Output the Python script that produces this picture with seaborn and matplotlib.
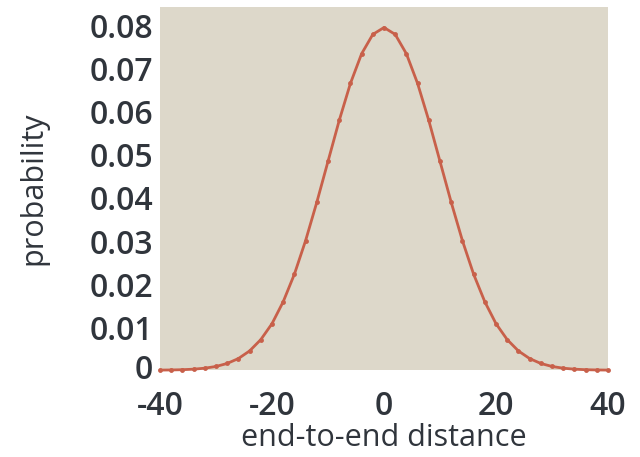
import matplotlib
matplotlib.use("Agg")
import matplotlib.pyplot as plt
import matplotlib.transforms as mtransforms
import seaborn as sns
import pandas as pd

# end-to-end distance (steps of 2) and probability
distance = [-40, -38, -36, -34, -32, -30, -28, -26, -24, -22, -20, -18, -16, -14,
            -12, -10, -8, -6, -4, -2, 0, 2, 4, 6, 8, 10, 12, 14, 16, 18, 20,
            22, 24, 26, 28, 30, 32, 34, 36, 38, 40]
probability = [0.00002, 0.00005, 0.00011, 0.00023, 0.00046, 0.00086, 0.00156,
               0.0027, 0.00447, 0.0071, 0.0108, 0.0159, 0.0223, 0.0301, 0.039,
               0.0485, 0.058, 0.0666, 0.0735, 0.078, 0.0796, 0.078, 0.0735,
               0.0666, 0.058, 0.0485, 0.039, 0.0301, 0.0223, 0.0159, 0.0108,
               0.0071, 0.00447, 0.0027, 0.00156, 0.00086, 0.00046, 0.00023,
               0.00011, 0.00005, 0.00002]
xticks = [-40, -20, 0, 20, 40]
yticks = [0, 0.01, 0.02, 0.03, 0.04, 0.05, 0.06, 0.07, 0.08]
ytick_labels = ["0", "0.01", "0.02", "0.03", "0.04", "0.05", "0.06", "0.07", "0.08"]

df = pd.DataFrame({"distance": distance, "probability": probability})

sns.set_style("white")
plt.rcParams["font.family"] = ["Open Sans", "DejaVu Sans"]
textcol = "#30353c"

fig = plt.figure(figsize=(6.4, 4.57), dpi=100)
ax = fig.add_axes([0.25, 0.19, 0.70, 0.795])
ax.set_facecolor("#ddd8ca")

sns.lineplot(data=df, x="distance", y="probability", ax=ax, color="#c8604a",
             linewidth=2, marker="o", markersize=3.5, markeredgewidth=0,
             clip_on=False)

ax.set_xlim(-40, 40)
ax.set_ylim(0, 0.0844)
ax.set_xticks(xticks)
ax.set_xticklabels([str(t) for t in xticks])
ax.set_yticks(yticks)
ax.set_yticklabels(ytick_labels)
ax.tick_params(axis="both", direction="in", length=4, color="white",
               labelsize=23, labelcolor=textcol)
ax.tick_params(axis="x", pad=14)
ax.tick_params(axis="y", pad=5)
for lab in ax.get_xticklabels() + ax.get_yticklabels():
    lab.set_fontweight("semibold")
# nudge the "0" on the y axis up a little so it clears the "-40"
zero_lab = ax.get_yticklabels()[0]
zero_lab.set_transform(zero_lab.get_transform() +
                       mtransforms.ScaledTranslation(0, 3 / 72, fig.dpi_scale_trans))
for s in ax.spines.values():
    s.set_visible(False)

ax.set_xlabel("end-to-end distance", fontsize=22, color=textcol)
ax.set_ylabel("probability", fontsize=22, color=textcol)
ax.xaxis.set_label_coords(0.5, -0.145)
ax.yaxis.set_label_coords(-0.25, 0.5)

fig.savefig("out.png", dpi=100)
